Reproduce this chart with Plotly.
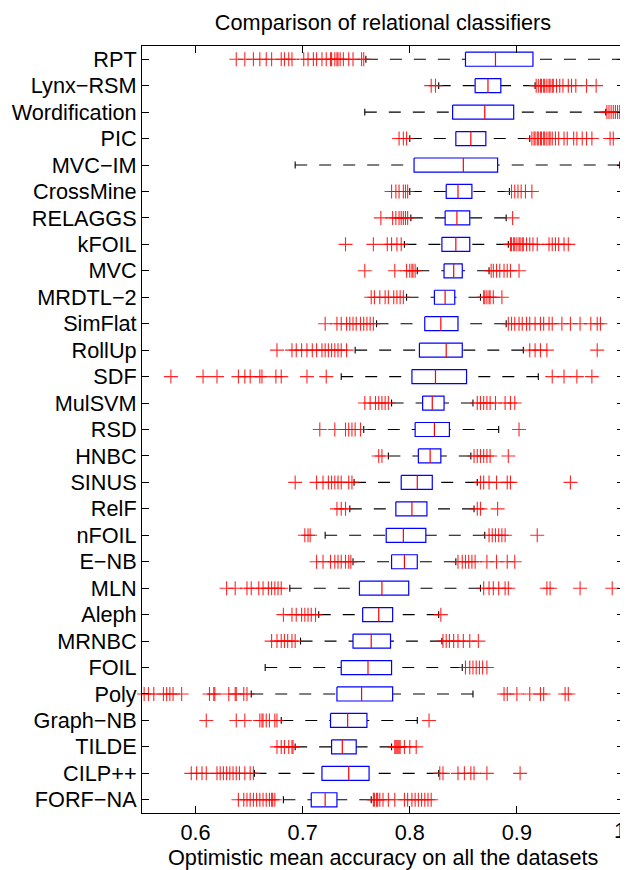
import plotly.graph_objects as go

categories = ["RPT", "Lynx\u2212RSM", "Wordification", "PIC", "MVC\u2212IM", "CrossMine", "RELAGGS",
              "kFOIL", "MVC", "MRDTL\u22122", "SimFlat", "RollUp", "SDF", "MulSVM", "RSD", "HNBC",
              "SINUS", "RelF", "nFOIL", "E\u2212NB", "MLN", "Aleph", "MRNBC", "FOIL", "Poly",
              "Graph\u2212NB", "TILDE", "CILP++", "FORF\u2212NA"]

lower_whisker = [0.759, 0.827, 0.758, 0.800, 0.693, 0.800, 0.801, 0.795, 0.807, 0.797, 0.769, 0.749,
                 0.736, 0.783, 0.757, 0.780, 0.748, 0.744, 0.721, 0.747, 0.688, 0.715, 0.698, 0.665,
                 0.652, 0.680, 0.693, 0.655, 0.682]
q1 = [0.852, 0.861, 0.840, 0.843, 0.804, 0.834, 0.833, 0.830, 0.832, 0.823, 0.814, 0.809, 0.802, 0.812,
      0.805, 0.808, 0.792, 0.787, 0.778, 0.783, 0.753, 0.756, 0.747, 0.736, 0.732, 0.726, 0.727, 0.718, 0.708]
median = [0.880, 0.873, 0.870, 0.857, 0.850, 0.845, 0.844, 0.843, 0.841, 0.833, 0.829, 0.834, 0.824, 0.821,
          0.823, 0.819, 0.807, 0.802, 0.794, 0.795, 0.774, 0.771, 0.764, 0.761, 0.755, 0.742, 0.737, 0.743, 0.721]
q3 = [0.915, 0.885, 0.897, 0.871, 0.882, 0.858, 0.856, 0.856, 0.849, 0.842, 0.845, 0.849, 0.853, 0.832,
      0.837, 0.829, 0.821, 0.816, 0.815, 0.807, 0.799, 0.784, 0.782, 0.783, 0.784, 0.760, 0.750, 0.762, 0.732]
upper_whisker = [1.000, 0.917, 0.983, 0.912, 0.996, 0.893, 0.890, 0.892, 0.874, 0.866, 0.890, 0.906,
                 0.920, 0.859, 0.883, 0.857, 0.863, 0.860, 0.870, 0.843, 0.866, 0.827, 0.830, 0.849,
                 0.859, 0.807, 0.783, 0.827, 0.764]

outliers = [
    # RPT
    [0.638, 0.646, 0.654, 0.660, 0.666, 0.671, 0.680, 0.683, 0.687, 0.690, 0.701, 0.705, 0.710, 0.713,
     0.718, 0.722, 0.726, 0.727, 0.730, 0.732, 0.733, 0.735, 0.738, 0.743, 0.747, 0.755, 0.757],
    # Lynx-RSM
    [0.820, 0.824, 0.918, 0.920, 0.922, 0.923, 0.925, 0.926, 0.928, 0.930, 0.931, 0.933, 0.934, 0.937,
     0.940, 0.943, 0.948, 0.951, 0.955, 0.965, 0.974],
    # Wordification
    [0.984, 0.986, 0.988, 0.990, 0.992, 0.994, 0.996, 0.998, 1.000],
    # PIC
    [0.790, 0.794, 0.797, 0.914, 0.916, 0.917, 0.919, 0.920, 0.922, 0.923, 0.925, 0.926, 0.928, 0.930,
     0.931, 0.933, 0.936, 0.939, 0.944, 0.947, 0.953, 0.956, 0.961, 0.965, 0.970, 0.987, 0.990],
    # MVC-IM
    [1.000],
    # CrossMine
    [0.783, 0.787, 0.790, 0.794, 0.796, 0.798, 0.895, 0.898, 0.901, 0.904, 0.908, 0.914],
    # RELAGGS
    [0.773, 0.784, 0.787, 0.790, 0.792, 0.794, 0.796, 0.798, 0.896],
    # kFOIL
    [0.740, 0.766, 0.779, 0.783, 0.788, 0.792, 0.894, 0.895, 0.897, 0.898, 0.900, 0.902, 0.903, 0.905,
     0.906, 0.909, 0.912, 0.915, 0.919, 0.930, 0.933, 0.936, 0.939, 0.944, 0.948],
    # MVC
    [0.758, 0.786, 0.797, 0.800, 0.802, 0.803, 0.805, 0.876, 0.878, 0.881, 0.884, 0.888, 0.891, 0.894, 0.902],
    # MRDTL-2
    [0.764, 0.767, 0.772, 0.777, 0.780, 0.785, 0.788, 0.791, 0.794, 0.869, 0.870, 0.872, 0.874, 0.875,
     0.878, 0.886],
    # SimFlat
    [0.721, 0.732, 0.736, 0.741, 0.744, 0.747, 0.750, 0.754, 0.757, 0.760, 0.763, 0.766, 0.892, 0.895,
     0.898, 0.902, 0.905, 0.909, 0.912, 0.917, 0.922, 0.925, 0.930, 0.933, 0.942, 0.950, 0.959, 0.969,
     0.975, 0.978],
    # RollUp
    [0.676, 0.690, 0.694, 0.699, 0.704, 0.709, 0.713, 0.718, 0.721, 0.724, 0.727, 0.730, 0.733, 0.736,
     0.741, 0.912, 0.917, 0.922, 0.928, 0.975],
    # SDF
    [0.577, 0.607, 0.620, 0.640, 0.646, 0.651, 0.660, 0.662, 0.675, 0.680, 0.704, 0.722, 0.933, 0.944,
     0.956, 0.970],
    # MulSVM
    [0.758, 0.763, 0.768, 0.771, 0.774, 0.777, 0.780, 0.863, 0.866, 0.869, 0.872, 0.875, 0.880, 0.889,
     0.894, 0.898],
    # RSD
    [0.716, 0.730, 0.740, 0.743, 0.746, 0.749, 0.754, 0.902],
    # HNBC
    [0.771, 0.774, 0.860, 0.863, 0.866, 0.869, 0.872, 0.875, 0.892],
    # SINUS
    [0.693, 0.713, 0.719, 0.724, 0.727, 0.730, 0.733, 0.736, 0.743, 0.746, 0.866, 0.869, 0.874, 0.881,
     0.891, 0.894, 0.950],
    # RelF
    [0.732, 0.736, 0.740, 0.863, 0.866, 0.882],
    # nFOIL
    [0.702, 0.705, 0.707, 0.874, 0.877, 0.880, 0.883, 0.886, 0.889, 0.919],
    # E-NB
    [0.713, 0.719, 0.726, 0.730, 0.733, 0.736, 0.740, 0.743, 0.745, 0.845, 0.849, 0.852, 0.855, 0.858,
     0.861, 0.872, 0.881, 0.891, 0.898],
    # MLN
    [0.629, 0.637, 0.648, 0.652, 0.659, 0.663, 0.668, 0.671, 0.674, 0.677, 0.680, 0.869, 0.874, 0.878,
     0.883, 0.889, 0.892, 0.928, 0.931, 0.959, 0.989],
    # Aleph
    [0.682, 0.690, 0.694, 0.699, 0.702, 0.705, 0.708, 0.712, 0.829],
    # MRNBC
    [0.671, 0.676, 0.680, 0.683, 0.686, 0.690, 0.693, 0.831, 0.834, 0.837, 0.841, 0.845, 0.850, 0.856, 0.864],
    # FOIL
    [0.852, 0.856, 0.859, 0.862, 0.865, 0.868, 0.872],
    # Poly
    [0.552, 0.556, 0.561, 0.570, 0.573, 0.576, 0.579, 0.587, 0.613, 0.617, 0.618, 0.631, 0.637, 0.638,
     0.645, 0.648, 0.888, 0.891, 0.900, 0.912, 0.922, 0.925, 0.945, 0.948],
    # Graph-NB
    [0.610, 0.638, 0.646, 0.660, 0.662, 0.663, 0.666, 0.669, 0.674, 0.676, 0.818],
    # TILDE
    [0.676, 0.680, 0.683, 0.687, 0.690, 0.691, 0.786, 0.787, 0.788, 0.789, 0.790, 0.791, 0.795, 0.800, 0.806],
    # CILP++
    [0.596, 0.601, 0.606, 0.610, 0.620, 0.623, 0.626, 0.629, 0.632, 0.635, 0.638, 0.641, 0.646, 0.651,
     0.654, 0.828, 0.831, 0.845, 0.851, 0.857, 0.860, 0.872, 0.903],
    # FORF-NA
    [0.640, 0.645, 0.648, 0.651, 0.654, 0.657, 0.660, 0.663, 0.666, 0.669, 0.671, 0.672, 0.674, 0.766,
     0.767, 0.769, 0.770, 0.772, 0.775, 0.780, 0.786, 0.795, 0.798, 0.802, 0.805, 0.808, 0.811, 0.814,
     0.817, 0.820],
]

x_ticks = [0.6, 0.7, 0.8, 0.9, 1.0]
x_tick_labels = ["0.6", "0.7", "0.8", "0.9", "1"]

# style (the page body adds an 8px offset, so figure coordinates are shifted by 8px)
BOX_H = 0.265
CAP_H = 0.13
FONT = "Liberation Sans, Arial, Helvetica, sans-serif"
FS = 21.7
OFF = 8
W, H = 628, 870 - OFF
ML, MT = 142 - OFF, 46 - OFF
MR = W - (624 - OFF)
MB = H - (813 - OFF)
PLOT_H = H - MT - MB

positions = list(range(1, len(categories) + 1))

box_x, box_y = [], []
med_x, med_y = [], []
wh_x, wh_y = [], []
cap_x, cap_y = [], []
out_x, out_y = [], []
for p, lw, a, m, b, uw, outs in zip(positions, lower_whisker, q1, median, q3, upper_whisker, outliers):
    box_x += [a, b, b, a, a, None]
    box_y += [p - BOX_H, p - BOX_H, p + BOX_H, p + BOX_H, p - BOX_H, None]
    med_x += [m, m, None]
    med_y += [p - BOX_H, p + BOX_H, None]
    wh_x += [lw, a, None, uw, b, None]
    wh_y += [p, p, None, p, p, None]
    cap_x += [lw, lw, None, uw, uw, None]
    cap_y += [p - CAP_H, p + CAP_H, None, p - CAP_H, p + CAP_H, None]
    out_x += outs
    out_y += [p] * len(outs)

fig = go.Figure()
fig.add_trace(go.Scatter(x=wh_x, y=wh_y, mode="lines",
                         line=dict(color="black", width=1.1, dash="12px,12px"),
                         hoverinfo="skip", showlegend=False))
fig.add_trace(go.Scatter(x=cap_x, y=cap_y, mode="lines",
                         line=dict(color="black", width=1.1),
                         hoverinfo="skip", showlegend=False))
fig.add_trace(go.Scatter(x=box_x, y=box_y, mode="lines",
                         line=dict(color="#0000ff", width=1.2),
                         hoverinfo="skip", showlegend=False))
fig.add_trace(go.Scatter(x=med_x, y=med_y, mode="lines",
                         line=dict(color="#ff0000", width=1.2),
                         hoverinfo="skip", showlegend=False))
fig.add_trace(go.Scatter(x=out_x, y=out_y, mode="markers", cliponaxis=False,
                         marker=dict(symbol="cross-thin", size=10, color="red",
                                     line=dict(color="rgba(255,0,0,0.85)", width=1.1)),
                         showlegend=False))

# all tick labels except the last are drawn by the axis; the last one ("1") sits at the
# window edge, so it is drawn as a right-anchored annotation to keep it fully visible
axis_ticktext = x_tick_labels[:-1] + [""]
annotations = [
    dict(text="Optimistic mean accuracy on all the datasets", xref="paper", yref="paper",
         x=0.5, y=-(857 - 813) / PLOT_H, xanchor="center", yanchor="middle",
         showarrow=False, font=dict(family=FONT, size=FS, color="black")),
    dict(text=x_tick_labels[-1], xref="x", yref="paper", x=x_ticks[-1], xanchor="right", xshift=4,
         y=-(831 - 813) / PLOT_H, yanchor="middle", showarrow=False,
         font=dict(family=FONT, size=FS, color="black")),
]

fig.update_layout(
    template="none",
    width=W, height=H,
    paper_bgcolor="white", plot_bgcolor="white",
    margin=dict(l=ML, r=MR, t=MT, b=MB, autoexpand=False),
    font=dict(family=FONT, size=FS, color="black"),
    title=dict(text="Comparison of relational classifiers", x=(ML + (W - ML - MR) / 2) / W,
               xanchor="center", xref="container", y=1 - (22 - OFF) / H, yref="container",
               yanchor="middle", font=dict(family=FONT, size=FS, color="black")),
    showlegend=False,
    annotations=annotations,
)
fig.update_xaxes(range=[0.55, 1.0], tickvals=x_ticks, ticktext=axis_ticktext, automargin=False,
                 ticks="inside", ticklen=7, tickcolor="black", tickwidth=1,
                 showline=True, linecolor="black", linewidth=1, mirror="allticks",
                 showgrid=False, zeroline=False, ticklabelstandoff=0,
                 tickfont=dict(family=FONT, size=FS, color="black"))
fig.update_yaxes(range=[len(categories) + 0.5, 0.5], tickvals=positions, ticktext=categories,
                 automargin=False,
                 ticks="inside", ticklen=7, tickcolor="black", tickwidth=1,
                 showline=True, linecolor="black", linewidth=1, mirror="allticks",
                 showgrid=False, zeroline=False, ticklabeloverflow="allow",
                 tickfont=dict(family=FONT, size=FS, color="black"))

fig.write_html("out.html")
